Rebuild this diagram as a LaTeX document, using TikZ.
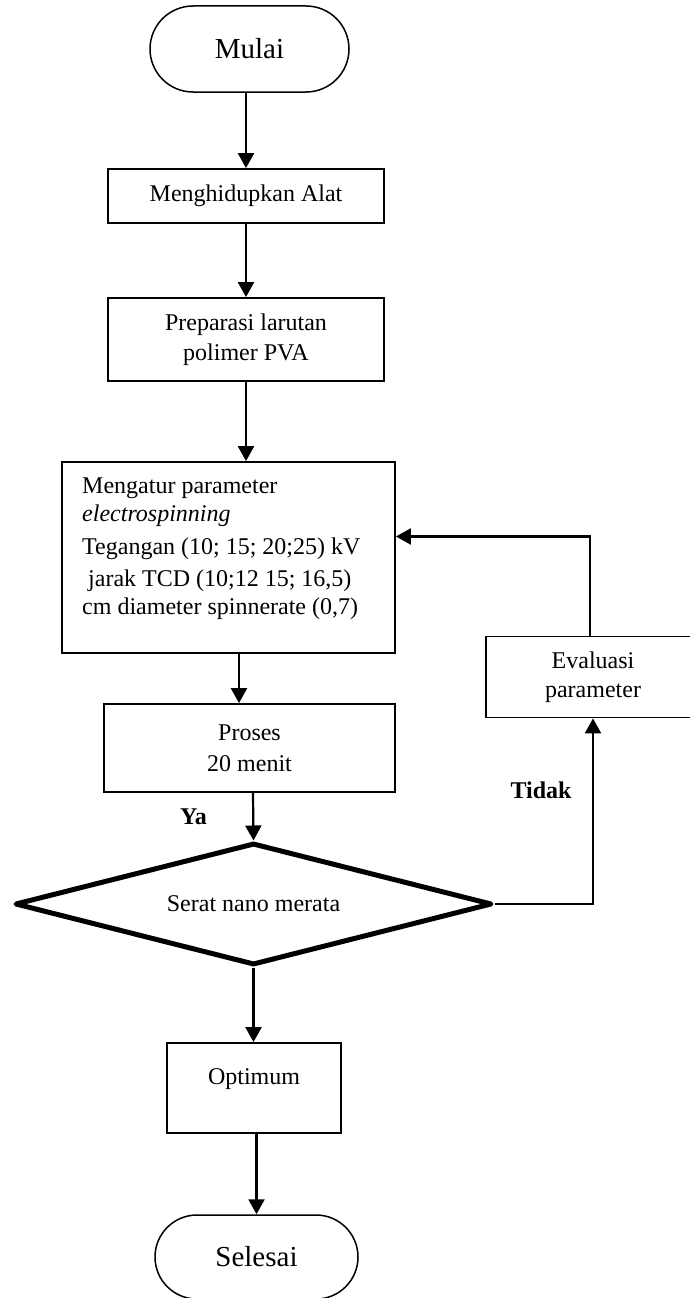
\documentclass[tikz,border=0pt]{standalone}
\usepackage{fontspec}
\setmainfont{Liberation Serif}
\usetikzlibrary{arrows.meta,shapes.geometric,shapes.misc,calc}
\tikzset{
  box/.style={draw, line width=1.8pt, inner sep=0pt, align=center, font=\fontsize{24}{30}\selectfont},
  term/.style={draw, rounded rectangle, line width=1.5pt, inner sep=0pt, font=\fontsize{29}{34}\selectfont},
  decision/.style={draw, diamond, aspect=3.9, line width=5pt, line join=round, inner sep=0pt, font=\fontsize{24}{28}\selectfont},
  arr/.style={line width=2.2pt, -{Triangle[length=15pt,width=16pt]}},
  lbl/.style={font=\fontsize{24}{28}\selectfont\bfseries, inner sep=0pt}
}
\begin{document}
\begin{tikzpicture}[x=1pt,y=-1pt]
\useasboundingbox (0,0) rectangle (690,1298);
\fill[white] (0,0) rectangle (690,1298);
\clip (0,0) rectangle (690,1298);

\node[term, minimum width=199pt, minimum height=86pt] (mulai) at (249.5,49) {Mulai};
\node[box, minimum width=276pt, minimum height=54pt] (alat) at (246,196) {Menghidupkan Alat};
\node[box, minimum width=276pt, minimum height=83pt] (prep) at (246,339.5) {Preparasi larutan\\polimer PVA};
\node[box, minimum width=333pt, minimum height=191pt] (param) at (228.5,557.5) {};
\node[anchor=north west, inner sep=0pt, align=left, font=\fontsize{24}{28}\selectfont] (paramtext) at (82,478)
  {Mengatur parameter\\\textit{electrospinning}\\[5pt]Tegangan (10; 15; 20;25) kV\\[4pt]\hspace*{6pt}jarak TCD (10;12 15; 16,5)\\cm diameter spinnerate (0,7)};
\node[box, minimum width=291pt, minimum height=88pt, font=\fontsize{24}{31}\selectfont] (proc) at (249.5,748) {Proses\\20 menit};
\node[decision, minimum width=477pt, minimum height=122pt] (dec) at (253.5,904) {Serat nano merata};
\node[box, minimum width=214pt, minimum height=81pt, font=\fontsize{24}{29}\selectfont] (eval) at (593,677) {Evaluasi\\parameter};
\node[box, minimum width=174pt, minimum height=90pt, text height=16pt, text depth=24pt] (opt) at (254,1088) {Optimum};
\node[term, minimum width=203pt, minimum height=84pt] (sel) at (256.5,1257) {Selesai};

\node[lbl] (ya) at (193.5,817) {Ya};
\node[lbl] (tidak) at (541,790) {Tidak};

\draw[arr] (mulai.south -| alat.north) -- (alat.north);
\draw[arr] (alat.south) -- (prep.north);
\draw[arr] (prep.south) -- (prep.south |- param.north);
\draw[arr] ([xshift=10.5pt]param.south) -- ([xshift=10.5pt]param.south |- proc.north);
\draw[arr] ([xshift=3.5pt]proc.south) -- (dec.north);
\draw[arr] (dec.east) -| (eval.south);
\draw[arr] ([xshift=-3pt]eval.north) |- ([yshift=21pt]param.east);
\draw[arr] (dec.south) -- (dec.south |- opt.north);
\draw[arr] (opt.south -| sel.north) -- (sel.north);
\end{tikzpicture}
\end{document}
